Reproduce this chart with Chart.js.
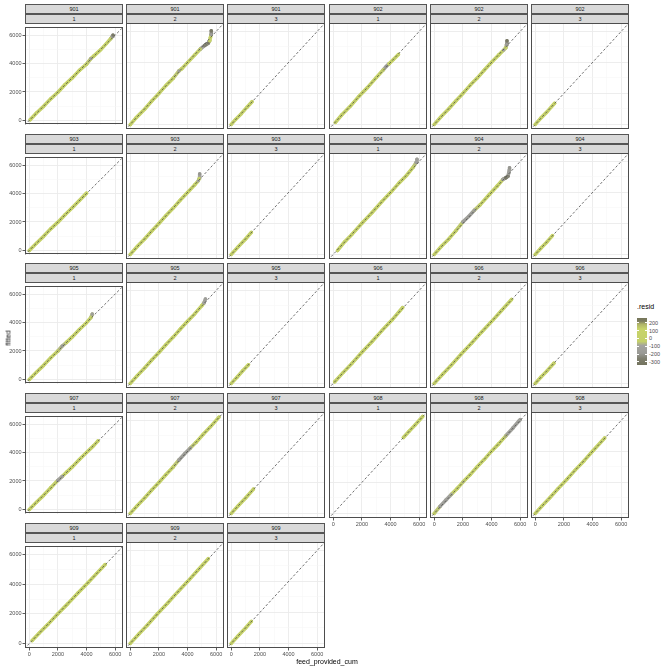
<!DOCTYPE html>
<html><head><meta charset="utf-8">
<script src="https://cdn.jsdelivr.net/npm/chart.js@4/dist/chart.umd.min.js"></script>
<style>
html,body{margin:0;padding:0;background:#fff;}
body{width:668px;height:668px;position:relative;overflow:hidden;font-family:"Liberation Sans",Arial,sans-serif;}
.strip{position:absolute;background:#d9d9d9;border:1px solid #555;box-sizing:border-box;font-size:5.5px;color:#1a1a1a;text-align:center;}
canvas{position:absolute;}
.txt{position:absolute;white-space:nowrap;color:#000;}
</style></head><body>
<script>
// ---- data: [feed_provided_cum, fitted, .resid] ----
const groups = ["901","902","903","904","905","906","907","908","909"];
const phases = ["1","2","3"];
const tickLabels = [0, 2000, 4000, 6000];
const minorTicks = [1000, 3000, 5000];
const legendLabels = [200, 100, 0, -100, -200, -300];

const d901_1 = [[60,50,20],[500,520,30],[1000,990,10],[1500,1520,40],[2000,1980,20],[2500,2530,50],[3000,2990,10],[3500,3520,30],[4000,3960,0],[4300,4350,-100],[4500,4520,30],[5000,4980,20],[5400,5420,40],[5700,5760,10],[5800,5900,-150],[5850,6000,-300]];
const d901_2 = [[0,-20,30],[400,420,40],[1000,980,20],[1500,1510,30],[2000,2000,10],[2500,2520,40],[3000,2980,20],[3400,3450,-120],[3600,3600,30],[4000,3990,20],[4500,4480,30],[4900,4870,10],[5200,5100,-250],[5450,5250,-300],[5550,5400,60],[5600,5600,80],[5650,5800,-150],[5660,6050,-300]];
const d901_3 = [[0,0,20],[300,320,30],[700,690,20],[1100,1110,40],[1450,1460,20]];
const d902_1 = [[150,130,20],[600,620,30],[1200,1180,10],[1800,1820,40],[2400,2390,20],[3000,3020,30],[3500,3530,20],[3700,3750,-200],[3900,3920,20],[4200,4190,20],[4550,4520,30]];
const d902_2 = [[0,0,30],[500,520,40],[1000,990,20],[1500,1510,30],[2000,2000,20],[2500,2520,40],[3000,2990,20],[3500,3510,30],[4000,4010,20],[4500,4480,30],[4850,4800,-100],[5000,4950,20],[5050,5150,-150],[5080,5400,-300]];
const d902_3 = [[0,0,20],[400,420,30],[800,790,20],[1350,1360,30]];
const d903_1 = [[0,0,20],[500,510,30],[1000,990,20],[1500,1520,40],[2000,1990,20],[2500,2510,30],[3000,3000,20],[3500,3520,30],[4000,4030,20]];
const d903_2 = [[0,0,20],[500,520,40],[1000,990,20],[1500,1510,30],[2000,2000,20],[2500,2510,40],[3000,2990,20],[3500,3510,30],[4000,4000,20],[4500,4490,30],[4750,4750,-100],[4820,4900,20],[4850,5200,-200]];
const d903_3 = [[0,0,20],[500,510,30],[1000,990,20],[1400,1420,30]];
const d904_1 = [[300,250,20],[800,820,40],[1300,1290,20],[2000,2010,30],[2700,2690,20],[3400,3420,30],[4000,3990,20],[4600,4620,30],[5100,5080,20],[5600,5650,30],[5800,5950,-150],[5850,6150,-150]];
const d904_2 = [[0,0,30],[500,520,40],[1000,980,20],[1500,1520,30],[2000,2100,-120],[2400,2450,-150],[2800,2850,-120],[3200,3200,20],[3800,3820,30],[4400,4420,20],[4800,4850,-100],[5000,4950,-300],[5150,5050,-250],[5200,5250,-100],[5250,5450,-150],[5260,5600,-200]];
const d904_3 = [[0,0,20],[400,410,30],[800,790,20],[1200,1210,30]];
const d905_1 = [[0,0,20],[500,510,30],[1000,990,20],[1500,1520,40],[2000,2000,20],[2300,2350,-150],[2600,2610,20],[3000,2990,30],[3500,3510,20],[4000,3990,30],[4300,4350,20],[4400,4600,-150]];
const d905_2 = [[0,0,20],[500,510,30],[1000,990,20],[1500,1510,40],[2000,1990,20],[2500,2510,30],[3000,2990,20],[3500,3510,30],[4000,4010,20],[4500,4490,30],[5000,5020,20],[5150,5200,-100],[5250,5450,-150]];
const d905_3 = [[0,0,20],[400,400,30],[800,810,20],[1200,1200,30]];
const d906_1 = [[100,100,20],[700,710,30],[1300,1290,20],[2000,2010,40],[2700,2690,20],[3400,3410,30],[4100,4090,20],[4850,4900,30]];
const d906_2 = [[0,0,20],[600,610,30],[1200,1190,20],[1900,1910,40],[2600,2590,20],[3300,3310,30],[4000,3990,20],[4700,4710,30],[5400,5420,20]];
const d906_3 = [[0,0,20],[400,410,30],[800,790,20],[1300,1300,30]];
const d907_1 = [[0,0,20],[500,510,30],[1000,990,20],[1500,1520,40],[2000,2050,-120],[2300,2320,-100],[2600,2610,20],[3000,2990,30],[3500,3510,20],[4000,4010,30],[4500,4490,20],[4800,4820,30]];
const d907_2 = [[0,0,20],[500,510,30],[1000,990,20],[1500,1510,40],[2000,1990,20],[2500,2510,30],[3000,3000,20],[3400,3450,-120],[3800,3850,-150],[4200,4220,-120],[4600,4590,20],[5100,5110,30],[5600,5590,20],[6200,6220,30]];
const d907_3 = [[0,0,20],[500,510,30],[1000,990,20],[1550,1570,30]];
const d908_1 = [[4900,4900,20],[5300,5310,30],[5700,5690,20],[6250,6260,30]];
const d908_2 = [[0,0,20],[400,450,-120],[800,850,-120],[1200,1230,-80],[1600,1610,20],[2000,2020,-60],[2500,2490,30],[3000,3010,20],[3500,3490,30],[4000,4020,20],[4500,4490,30],[5000,5010,-60],[5500,5520,-120],[5900,5950,-120],[6000,6050,-100]];
const d908_3 = [[0,0,20],[500,510,30],[1000,990,20],[1600,1610,40],[2200,2190,20],[2800,2810,30],[3400,3390,20],[4000,4010,30],[4850,4870,20]];
const d909_1 = [[200,200,20],[700,710,30],[1300,1290,20],[2000,2010,40],[2700,2690,20],[3400,3410,30],[4100,4090,20],[4700,4710,30],[5300,5320,20]];
const d909_2 = [[0,0,20],[600,610,30],[1200,1190,20],[1900,1910,40],[2600,2590,20],[3300,3310,30],[4000,3990,20],[4700,4710,30],[5450,5470,20]];
const d909_3 = [[0,0,20],[500,510,30],[1000,990,20],[1400,1420,30]];

const panelData = {
  "901-1":d901_1,"901-2":d901_2,"901-3":d901_3,"902-1":d902_1,"902-2":d902_2,"902-3":d902_3,
  "903-1":d903_1,"903-2":d903_2,"903-3":d903_3,"904-1":d904_1,"904-2":d904_2,"904-3":d904_3,
  "905-1":d905_1,"905-2":d905_2,"905-3":d905_3,"906-1":d906_1,"906-2":d906_2,"906-3":d906_3,
  "907-1":d907_1,"907-2":d907_2,"907-3":d907_3,"908-1":d908_1,"908-2":d908_2,"908-3":d908_3,
  "909-1":d909_1,"909-2":d909_2,"909-3":d909_3
};

// ---- styles ----
const FONT = '"Liberation Sans", Arial, sans-serif';
const residStops = [[-340,'#74745e'],[-260,'#7e7e6e'],[-190,'#9a9a96'],[-90,'#a4a49e'],[-40,'#c4d06a'],[120,'#c8d46a'],[180,'#b0b468'],[220,'#7c7c5e'],[260,'#76765a']];
function hex(c){return [parseInt(c.substr(1,2),16),parseInt(c.substr(3,2),16),parseInt(c.substr(5,2),16)];}
function residColor(v){
  if (v <= residStops[0][0]) return residStops[0][1];
  for (let i=1;i<residStops.length;i++){
    if (v <= residStops[i][0]){
      const [a,ca]=residStops[i-1],[b,cb]=residStops[i];
      const t=(v-a)/(b-a), A=hex(ca), B=hex(cb);
      return 'rgb('+A.map((x,k)=>Math.round(x+(B[k]-x)*t)).join(',')+')';
    }
  }
  return residStops[residStops.length-1][1];
}
const AX_MIN = -300, AX_MAX = 6550;
const colLeft = [25,126,227,329,430,531];
const rowTop = [4,134,263,393,523];
const PW = 98, PH = 106;

const borderPlugin = { id:'pborder', afterDraw(chart){ const a=chart.chartArea, c=chart.ctx; c.save(); c.strokeStyle='#4d4d4d'; c.lineWidth=1; c.strokeRect(Math.round(a.left)+0.5,Math.round(a.top)+0.5,Math.round(a.right-a.left)-1,Math.round(a.bottom-a.top)-1); c.restore(); } };

const allTicks = tickLabels.concat(minorTicks).sort((a,b)=>a-b);
function isMajor(v){ return tickLabels.indexOf(v) >= 0; }

function axis(show, isX){
  return {
    type:'linear', min:AX_MIN, max:AX_MAX,
    afterBuildTicks: s => { s.ticks = allTicks.map(v=>({value:v})); },
    afterFit: s => { if (isX) s.height = show ? 13 : 0; else s.width = show ? 25 : 0; },
    border:{display:false},
    grid:{
      color: ctx => (ctx.tick && isMajor(ctx.tick.value)) ? '#ebebeb' : '#f5f5f5',
      lineWidth: ctx => (ctx.tick && isMajor(ctx.tick.value)) ? 0.9 : 0.5,
      drawTicks: show, tickLength: 2.5,
      tickColor: ctx => (ctx.tick && isMajor(ctx.tick.value)) ? '#333333' : 'rgba(0,0,0,0)',
      tickWidth: 0.8
    },
    ticks:{ display: show, autoSkip:false, maxRotation:0, padding:1, color:'#4d4d4d',
      font:{size:5.5, family:FONT},
      callback: v => isMajor(v) ? String(v) : '' }
  };
}

function add(el){ document.body.appendChild(el); return el; }
function strip(x,y,w,h,text){
  const d=document.createElement('div'); d.className='strip';
  d.style.left=x+'px'; d.style.top=y+'px'; d.style.width=w+'px'; d.style.height=h+'px';
  d.style.lineHeight=(h-2)+'px'; d.textContent=text; add(d);
}

let idx = 0;
groups.forEach(g => phases.forEach(p => {
  const r = Math.floor(idx/6), c = idx%6; idx++;
  const pts = panelData[g+'-'+p];
  const showY = c === 0;
  const showX = (r === 4) || (r === 3 && c >= 3);
  const top = rowTop[r];
  strip(colLeft[c], top, PW, 10, g);
  strip(colLeft[c], top+9.5, PW, 10, p);
  const cv = document.createElement('canvas');
  const w = PW + (showY?25:0), h = PH + (showX?13:0);
  cv.width = w; cv.height = h;
  cv.style.left = (colLeft[c] - (showY?25:0))+'px'; cv.style.top = (top+19)+'px';
  cv.style.width = w+'px'; cv.style.height = h+'px';
  add(cv);
  new Chart(cv, {
    type:'scatter',
    data:{ datasets:[
      { type:'line', data:[{x:-1000,y:-1000},{x:8000,y:8000}], borderColor:'#4d4d4d', borderWidth:0.8, borderDash:[2.5,2], pointRadius:0, order:0, fill:false },
      { data: pts.map(q=>({x:q[0], y:q[1]})), showLine:true, borderWidth:3.6, borderColor:'#c8d46a',
        borderCapStyle:'round', borderJoinStyle:'round',
        segment:{ borderColor: ctx => residColor((pts[ctx.p0DataIndex][2]+pts[ctx.p1DataIndex][2])/2) },
        pointRadius:1.7, pointBorderWidth:0, pointBackgroundColor: ctx => residColor(pts[ctx.dataIndex][2]), order:1 }
    ]},
    options:{
      responsive:false, animation:false, devicePixelRatio:1,
      layout:{padding:0, autoPadding:false},
      plugins:{ legend:{display:false}, tooltip:{enabled:false}, title:{display:false} },
      scales:{ x: axis(showX, true), y: axis(showY, false) }
    },
    plugins:[borderPlugin]
  });
}));

// axis titles
const yt = document.createElement('div'); yt.className='txt'; yt.textContent='fitted';
yt.style.fontSize='7px'; yt.style.left='8px'; yt.style.top='338px';
yt.style.transform='translate(-50%,-50%) rotate(-90deg)'; add(yt);
const xt = document.createElement('div'); xt.className='txt'; xt.textContent='feed_provided_cum';
xt.style.fontSize='7px'; xt.style.left='327px'; xt.style.top='661px';
xt.style.transform='translate(-50%,-50%)'; add(xt);

// legend
const LT = 318, LH = 47, LTOP = 260, LBOT = -340;
const lt = document.createElement('div'); lt.className='txt'; lt.textContent='.resid';
lt.style.fontSize='7px'; lt.style.left='637px'; lt.style.top='306px'; lt.style.transform='translateY(-50%)'; add(lt);
const bar = document.createElement('div');
bar.style.position='absolute'; bar.style.left='637px'; bar.style.top=LT+'px'; bar.style.width='10px'; bar.style.height=LH+'px';
const grad = residStops.slice().reverse().map(s => s[1]+' '+((LTOP - s[0])/(LTOP-LBOT)*100).toFixed(1)+'%').join(',');
bar.style.background='linear-gradient(to bottom,'+grad+')'; add(bar);
legendLabels.forEach(v => {
  const yy = LT + (LTOP - v)/(LTOP-LBOT)*LH;
  const t = document.createElement('div'); t.className='txt'; t.textContent=String(v);
  t.style.fontSize='5.5px'; t.style.color='#4d4d4d'; t.style.left='649px'; t.style.top=yy+'px'; t.style.transform='translateY(-50%)'; add(t);
  ['637px','645px'].forEach(xp => { const tk=document.createElement('div'); tk.style.position='absolute'; tk.style.left=xp; tk.style.top=(yy-0.5)+'px'; tk.style.width='2px'; tk.style.height='1px'; tk.style.background='#fff'; add(tk); });
});
</script></body></html>
